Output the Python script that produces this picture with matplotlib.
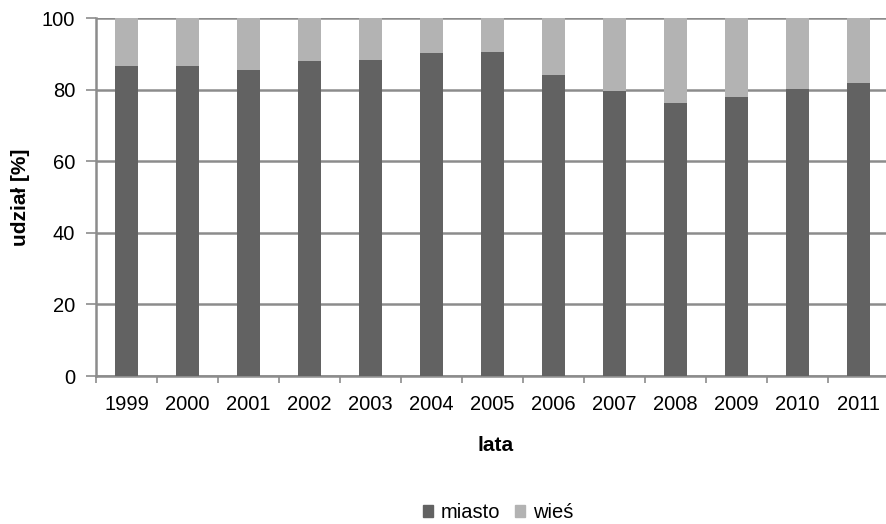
import matplotlib
matplotlib.use("Agg")
import matplotlib.pyplot as plt
from matplotlib.patches import Patch
import numpy as np

plt.rcParams['font.family'] = ['Liberation Sans', 'DejaVu Sans']

years = ['1999', '2000', '2001', '2002', '2003', '2004', '2005',
         '2006', '2007', '2008', '2009', '2010', '2011']
miasto = [86.7, 86.7, 85.6, 87.9, 88.4, 90.1, 90.6,
          84.0, 79.5, 76.2, 77.9, 80.1, 81.8]
wies = [100 - m for m in miasto]

c_miasto = '#626262'
c_wies = '#b3b3b3'
grid_c = '#8c8c8c'

fig = plt.figure(figsize=(8.86, 5.24), dpi=100)
ax = fig.add_axes([96 / 886, 148 / 524, 793 / 886, 358 / 524])

x = np.arange(len(years))
ax.bar(x, miasto, width=0.39, color=c_miasto, zorder=3)
ax.bar(x, wies, bottom=miasto, width=0.39, color=c_wies, zorder=3)

ax.set_xlim(-0.5, len(years) - 0.5)
ax.set_ylim(0, 100)
ax.set_yticks(range(0, 101, 20))
ax.yaxis.grid(True, color=grid_c, linewidth=1.8, zorder=0)

# category labels between boundary tick marks
ax.set_xticks(x)
ax.set_xticklabels(years, fontsize=14.5)
ax.set_xticks(np.arange(-0.5, len(years)), minor=True)
ax.tick_params(axis='x', which='major', length=0, pad=14)
ax.tick_params(axis='x', which='minor', length=5, color=grid_c, width=1.2)
ax.tick_params(axis='y', length=7, color=grid_c, width=1.2, labelsize=14.5, pad=8)

for side in ('top', 'right'):
    ax.spines[side].set_visible(False)
for side in ('left', 'bottom'):
    ax.spines[side].set_color(grid_c)
    ax.spines[side].set_linewidth(1.8)

ax.set_ylabel('udział [%]', fontsize=15, fontweight='bold')
ax.yaxis.set_label_coords(-0.083, 0.5)
ax.set_xlabel('lata', fontsize=15, fontweight='bold')
ax.xaxis.set_label_coords(0.504, -0.168)

handles = [Patch(color=c_miasto, label='miasto'), Patch(color=c_wies, label='wieś')]
fig.legend(handles=handles, loc='center', bbox_to_anchor=(0.562, 0.022), ncol=2,
           frameon=False, fontsize=14.5, handlelength=0.5, handleheight=0.5,
           handletextpad=0.4, columnspacing=0.7, borderpad=0)

fig.savefig('out.png', dpi=100)
